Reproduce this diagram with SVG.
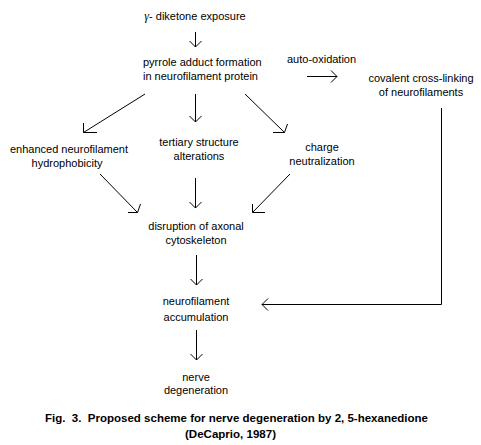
<svg xmlns="http://www.w3.org/2000/svg" width="481" height="445" viewBox="0 0 481 445">
<style>
text{font-family:"Liberation Sans",Arial,sans-serif;font-size:11px;fill:#000}
.c{text-anchor:middle}
.cap{font-weight:bold;font-size:11.5px;text-anchor:middle;white-space:pre}
.ln{fill:none;stroke:#000;stroke-width:1}
</style>
<rect width="481" height="445" fill="#fff"/>
<g id="connectors">
<!-- exposure -> pyrrole -->
<path class="ln" d="M195.5,32 V47 M189.5,41 L195.5,47 L201.5,41"/>
<!-- auto-oxidation arrow -->
<path class="ln" d="M307,76.5 H337 M331,70.5 L337,76.5 L331,82.5"/>
<!-- pyrrole -> enhanced -->
<path class="ln" d="M145,94 L83.5,132.5 M83.5,123 V132.5 H97"/>
<!-- pyrrole -> tertiary -->
<path class="ln" d="M195.5,94 V122 M189.5,116 L195.5,122 L201.5,116"/>
<!-- pyrrole -> charge -->
<path class="ln" d="M245,94 L284.5,132.5 M273,132.5 H284.5 L287.5,124"/>
<!-- enhanced -> disruption -->
<path class="ln" d="M100,174 L137.5,212.5 M128,212.5 H137.5 L140.5,204"/>
<!-- tertiary -> disruption -->
<path class="ln" d="M195.5,178 V208 M189.5,202 L195.5,208 L201.5,202"/>
<!-- charge -> disruption -->
<path class="ln" d="M290,174 L252.5,212.5 M252.5,204 V212.5 H265"/>
<!-- disruption -> accumulation -->
<path class="ln" d="M196.5,255 V285 M190.5,279 L196.5,285 L202.5,279"/>
<!-- accumulation -> nerve degeneration -->
<path class="ln" d="M196.5,330 V360 M190.5,354 L196.5,360 L202.5,354"/>
<!-- cross-linking -> accumulation -->
<path class="ln" d="M441.5,108 V304.5 H262 M268,298.5 L262,304.5 L268,310.5"/>
</g>
<g id="n-exposure"><text class="c" x="195" y="20"><tspan font-style="italic" font-family="'Liberation Serif',serif" font-size="12">γ</tspan>- diketone exposure</text></g>
<g id="n-pyrrole"><text x="143" y="66">pyrrole adduct formation</text><text x="143" y="80">in neurofilament protein</text></g>
<g id="n-autoox"><text x="287" y="63">auto-oxidation</text></g>
<g id="n-crosslink"><text class="c" x="421" y="82">covalent cross-linking</text><text class="c" x="421" y="96">of neurofilaments</text></g>
<g id="n-enhanced"><text class="c" x="69" y="153">enhanced neurofilament</text><text class="c" x="67" y="167">hydrophobicity</text></g>
<g id="n-tertiary"><text class="c" x="199" y="146">tertiary structure</text><text class="c" x="199" y="160">alterations</text></g>
<g id="n-charge"><text class="c" x="322" y="151">charge</text><text class="c" x="322" y="165">neutralization</text></g>
<g id="n-disruption"><text class="c" x="196" y="230">disruption of axonal</text><text class="c" x="196" y="244">cytoskeleton</text></g>
<g id="n-accumulation"><text class="c" x="196" y="305">neurofilament</text><text class="c" x="196" y="321">accumulation</text></g>
<g id="n-nerve"><text class="c" x="196" y="381">nerve</text><text class="c" x="196" y="394">degeneration</text></g>
<g id="caption"><text class="cap" x="236.5" y="422" xml:space="preserve" textLength="383" lengthAdjust="spacingAndGlyphs">Fig.  3.  Proposed scheme for nerve degeneration by 2, 5-hexanedione</text><text class="cap" x="230.5" y="438" textLength="91" lengthAdjust="spacingAndGlyphs">(DeCaprio, 1987)</text></g>
</svg>
